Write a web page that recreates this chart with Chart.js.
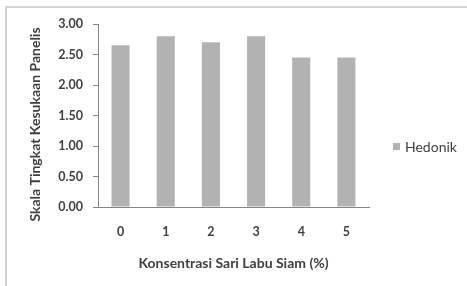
<!DOCTYPE html>
<html>
<head>
<meta charset="utf-8">
<script src="https://cdn.jsdelivr.net/npm/chart.js@4"></script>
<style>
  html, body { margin: 0; padding: 0; background: #fff; }
  #wrap { width: 467px; height: 286px; }
</style>
</head>
<body>
<div id="wrap"><canvas id="hedonikChart" width="467" height="286"></canvas></div>
<script>
// data
const konsentrasi = ['0', '1', '2', '3', '4', '5'];
const hedonik = [2.65, 2.80, 2.70, 2.80, 2.45, 2.45];
const yTicks = [0, 0.5, 1, 1.5, 2, 2.5, 3];
const yTitle = 'Skala Tingkat Kesukaan Panelis';

const textColor = '#404040';
const axisColor = '#868686';
const barColor = '#b2b2b2';

// light grey frame round the whole chart
const framePlugin = {
    id: 'frame',
    beforeDraw(chart) {
        const ctx = chart.ctx;
        ctx.save();
        ctx.fillStyle = '#fff';
        ctx.fillRect(0, 0, chart.width, chart.height);
        ctx.strokeStyle = '#d4d4d4';
        ctx.lineWidth = 2;
        ctx.strokeRect(6, 7, chart.width + 10, chart.height + 10);
        ctx.restore();
    }
};

// y title sits a bit lower than the plot centre in the original
const yTitlePlugin = {
    id: 'yTitle',
    afterDraw(chart) {
        const ctx = chart.ctx;
        const area = chart.chartArea;
        ctx.save();
        ctx.translate(35, (area.top + area.bottom) / 2 + 9);
        ctx.rotate(-Math.PI / 2);
        ctx.fillStyle = textColor;
        ctx.font = 'bold 14px Lato';
        ctx.textAlign = 'center';
        ctx.textBaseline = 'middle';
        ctx.fillText(yTitle, 0, 0);
        ctx.restore();
    }
};

// legend at the right, Excel style (small square + label)
const sideLegend = {
    id: 'sideLegend',
    afterDraw(chart) {
        const ctx = chart.ctx;
        const ds = chart.data.datasets[0];
        const x = chart.chartArea.right + 24;
        const y = 147;
        ctx.save();
        ctx.fillStyle = ds.backgroundColor;
        ctx.fillRect(x, y - 4, 7, 7);
        ctx.fillStyle = textColor;
        ctx.font = '14px Lato';
        ctx.textBaseline = 'middle';
        ctx.fillText(ds.label, x + 12, y);
        ctx.restore();
    }
};

const ctx = document.getElementById('hedonikChart').getContext('2d');
const hedonikChart = new Chart(ctx, {
    type: 'bar',
    data: {
        labels: konsentrasi,
        datasets: [{
            label: 'Hedonik',
            data: hedonik,
            backgroundColor: barColor,
            borderWidth: 0,
            categoryPercentage: 1,
            barPercentage: 0.4
        }]
    },
    options: {
        responsive: false,
        animation: false,
        layout: { padding: { left: 26, top: 24, right: 98, bottom: 14 } },
        plugins: {
            tooltip: { enabled: false },
            legend: { display: false }
        },
        scales: {
            x: {
                grid: { display: false, drawTicks: false },
                border: { display: true, color: axisColor, width: 1 },
                ticks: {
                    color: textColor,
                    padding: 17,
                    font: { family: 'Lato', size: 12.5, weight: 'bold' }
                },
                title: {
                    display: true,
                    text: 'Konsentrasi Sari Labu Siam (%)',
                    color: textColor,
                    padding: { top: 12, bottom: 0 },
                    font: { family: 'Lato', size: 14, weight: 'bold' }
                },
                afterFit(scale) { scale.height = 65; }
            },
            y: {
                min: 0,
                max: 3,
                afterBuildTicks(scale) {
                    scale.ticks = yTicks.map(v => ({ value: v }));
                },
                grid: {
                    drawOnChartArea: false,
                    drawTicks: true,
                    tickLength: 5,
                    color: axisColor
                },
                border: { display: true, color: axisColor, width: 1 },
                ticks: {
                    color: textColor,
                    padding: 10,
                    font: { family: 'Lato', size: 12.5, weight: 'bold' },
                    callback: v => v.toFixed(2)
                },
                title: { display: false },
                afterFit(scale) { scale.width = 72; }
            }
        }
    },
    plugins: [framePlugin, yTitlePlugin, sideLegend]
});
</script>
</body>
</html>
